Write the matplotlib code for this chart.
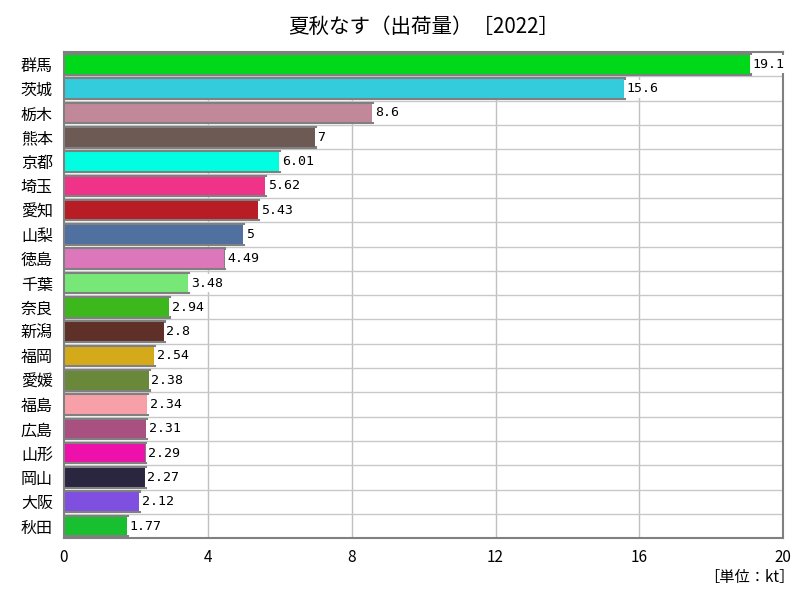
import matplotlib.pyplot as plt
import numpy as np

plt.rcParams['font.family'] = ['Noto Sans CJK JP', 'DejaVu Sans']

# Data
prefectures = ["群馬", "茨城", "栃木", "熊本", "京都", "埼玉", "愛知", "山梨", "徳島", "千葉",
               "奈良", "新潟", "福岡", "愛媛", "福島", "広島", "山形", "岡山", "大阪", "秋田"]
values = [19.1, 15.6, 8.6, 7, 6.01, 5.62, 5.43, 5, 4.49, 3.48,
          2.94, 2.8, 2.54, 2.38, 2.34, 2.31, 2.29, 2.27, 2.12, 1.77]
value_labels = ["19.1", "15.6", "8.6", "7", "6.01", "5.62", "5.43", "5", "4.49", "3.48",
                "2.94", "2.8", "2.54", "2.38", "2.34", "2.31", "2.29", "2.27", "2.12", "1.77"]
colors = ["#00d81a", "#33ccdd", "#c08898", "#6e5a55", "#00ffe0", "#ee3388", "#b81c25",
          "#50709f", "#dd77bb", "#77e877", "#3cb81c", "#5e3028", "#d4aa1a", "#6a883a",
          "#f8a0a8", "#a85080", "#ee10aa", "#2a2640", "#7f50e0", "#18c030"]
xticks = [0, 4, 8, 12, 16, 20]

fig = plt.figure(figsize=(8, 6), dpi=100)
ax = fig.add_axes([0.08, 0.103, 0.899, 0.81])

y = np.arange(len(prefectures))
ax.barh(y, values, height=0.85, color=colors, edgecolor="#808080", linewidth=1.5, zorder=3)

for yi, v, lab in zip(y, values, value_labels):
    ax.text(v + 0.05, yi, lab, va="center", ha="left", fontsize=9.5,
            family=["DejaVu Sans Mono"], zorder=4,
            bbox=dict(boxstyle="square,pad=0.2", facecolor="white", edgecolor="none"))

# grid
for xt in xticks[1:-1]:
    ax.axvline(xt, color="#c0c0c0", linewidth=1, zorder=1)
for yi in y[:-1]:
    ax.axhline(yi + 0.5, color="#c8c8c8", linewidth=1, zorder=1)

ax.set_ylim(len(prefectures) - 0.5, -0.5)
ax.set_xlim(0, 20)
ax.set_xticks(xticks)
ax.set_xticklabels([str(t) for t in xticks], fontsize=11)
ax.set_yticks(y)
ax.set_yticklabels(prefectures, fontsize=11.5)
ax.tick_params(length=0, pad=8)
for s in ax.spines.values():
    s.set_color("#808080")
    s.set_linewidth(1.5)

fig.text(0.53, 0.955, "夏秋なす（出荷量）［2022］", ha="center", va="center", fontsize=14.8)
fig.text(0.993, 0.037, "［単位：kt］", ha="right", va="center", fontsize=11)

fig.savefig("out.png", dpi=100, facecolor="white")
